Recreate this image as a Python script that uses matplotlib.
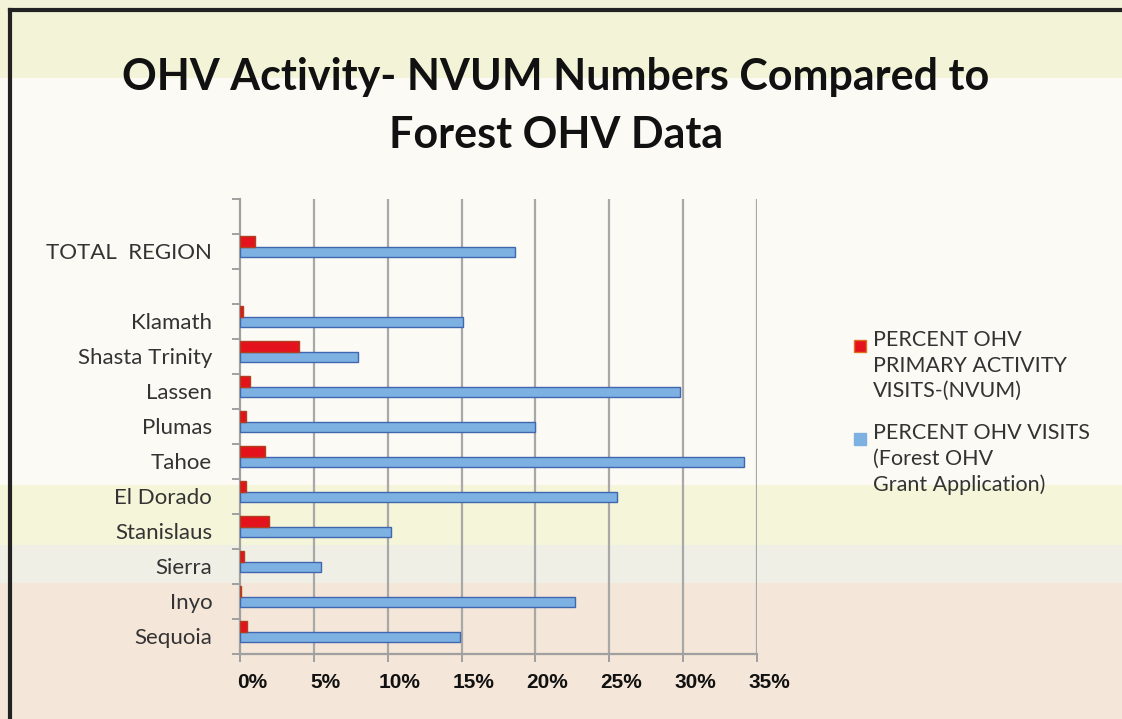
import matplotlib
matplotlib.use("Agg")
import matplotlib.pyplot as plt
import numpy as np
from matplotlib.patches import Rectangle
from matplotlib.transforms import ScaledTranslation

# chart values (percent), bottom to top, blank slots are spacers
categories = ["Sequoia", "Inyo", "Sierra", "Stanislaus", "El Dorado", "Tahoe",
              "Plumas", "Lassen", "Shasta Trinity", "Klamath", "", "TOTAL  REGION", ""]
nvum_pct = [0.45, 0.1, 0.3, 1.95, 0.4, 1.7, 0.4, 0.7, 4.0, 0.2, np.nan, 1.0, np.nan]
grant_pct = [14.9, 22.7, 5.5, 10.2, 25.5, 34.1, 20.0, 29.8, 8.0, 15.1, np.nan, 18.6, np.nan]
xticks = [0, 5, 10, 15, 20, 25, 30, 35]
xtick_labels = ["0%", "5%", "10%", "15%", "20%", "25%", "30%", "35%"]

title = "OHV Activity- NVUM Numbers Compared to\nForest OHV Data"
legend_red = "PERCENT OHV\nPRIMARY ACTIVITY\nVISITS-(NVUM)"
legend_blue = "PERCENT OHV VISITS\n(Forest OHV\nGrant Application)"

W, H = 1122, 719


def fx(x):
    return x / W


def fy(y):
    return 1 - y / H


fig = plt.figure(figsize=(W / 100, H / 100), dpi=100)
fig.patch.set_facecolor("#fbfaf4")

# background bands (y ranges in pixels from top)
bands = [(0, 78, "#f2f3d7"), (78, 485, "#fbfaf4"), (485, 545, "#f4f5d9"),
         (545, 583, "#efefe5"), (583, 719, "#f4e6d8")]
for y0, y1, c in bands:
    fig.patches.append(Rectangle((0, fy(y1)), 1, fy(y0) - fy(y1), transform=fig.transFigure,
                                 facecolor=c, edgecolor="none", zorder=-10))

# outer frame top/left
fig.add_artist(plt.Line2D([fx(10), 1], [fy(10), fy(10)], transform=fig.transFigure,
                          color="#222222", lw=3))
fig.add_artist(plt.Line2D([fx(10), fx(10)], [0, fy(10)], transform=fig.transFigure,
                          color="#222222", lw=3))

fig.text(fx(556), fy(106), title, ha="center", va="center", fontsize=31,
         fontweight="bold", family="Lato", linespacing=1.55, color="#111111")

ax = fig.add_axes([fx(240), fy(653.5), fx(757) - fx(240), fy(198.5) - fy(653.5)])
ax.set_facecolor("none")
ax.set_zorder(2)

y = np.arange(len(categories))
ax.barh(y - 0.03, grant_pct, height=0.31, color="#7db1e2", edgecolor="#4166b0",
        linewidth=1, zorder=3)
ax.barh(y + 0.28, nvum_pct, height=0.31, color="#e3121d", edgecolor="#b04020",
        linewidth=1, zorder=3)

ax.set_xlim(0, 35)
ax.set_ylim(-0.5, len(categories) - 0.5)

for x in xticks[1:]:
    ax.axvline(x, color="#a8a8a8", lw=1.6, zorder=1)

for s in ["top", "right"]:
    ax.spines[s].set_visible(False)
ax.spines["left"].set_color("#a0a0a0")
ax.spines["left"].set_linewidth(1.6)
ax.spines["bottom"].set_color("#a0a0a0")
ax.spines["bottom"].set_linewidth(1.6)

ax.set_yticks(y)
ax.set_yticklabels(categories, fontsize=16, family="Lato", color="#333333")
ax.set_yticks(np.arange(-0.5, len(categories)), minor=True)
ax.tick_params(axis="y", which="major", length=0, pad=20)
ax.tick_params(axis="y", which="minor", length=6, color="#a0a0a0", width=1.4)

ax.set_xticks(xticks)
ax.set_xticklabels(xtick_labels, fontsize=15, fontweight="bold",
                   family="Liberation Sans", color="#111111")
ax.tick_params(axis="x", length=6, color="#a0a0a0", width=1.4, pad=8)
for lab in ax.get_xticklabels():
    lab.set_transform(lab.get_transform() + ScaledTranslation(12 / 100, 0, fig.dpi_scale_trans))

# legend drawn by hand
for (ytop, color, edge, text) in [(340, "#e3121d", "#e07020", legend_red),
                                  (433, "#7db1e2", "#7db1e2", legend_blue)]:
    fig.patches.append(Rectangle((fx(854), fy(ytop + 12)), fx(866) - fx(854), fy(ytop) - fy(ytop + 12),
                                 transform=fig.transFigure, facecolor=color, edgecolor=edge, lw=1))
    fig.text(fx(873), fy(ytop - 10), text, ha="left", va="top", fontsize=15.5,
             family="Lato", color="#333333", linespacing=1.35)

fig.savefig("out.png", dpi=100, facecolor=fig.get_facecolor())
